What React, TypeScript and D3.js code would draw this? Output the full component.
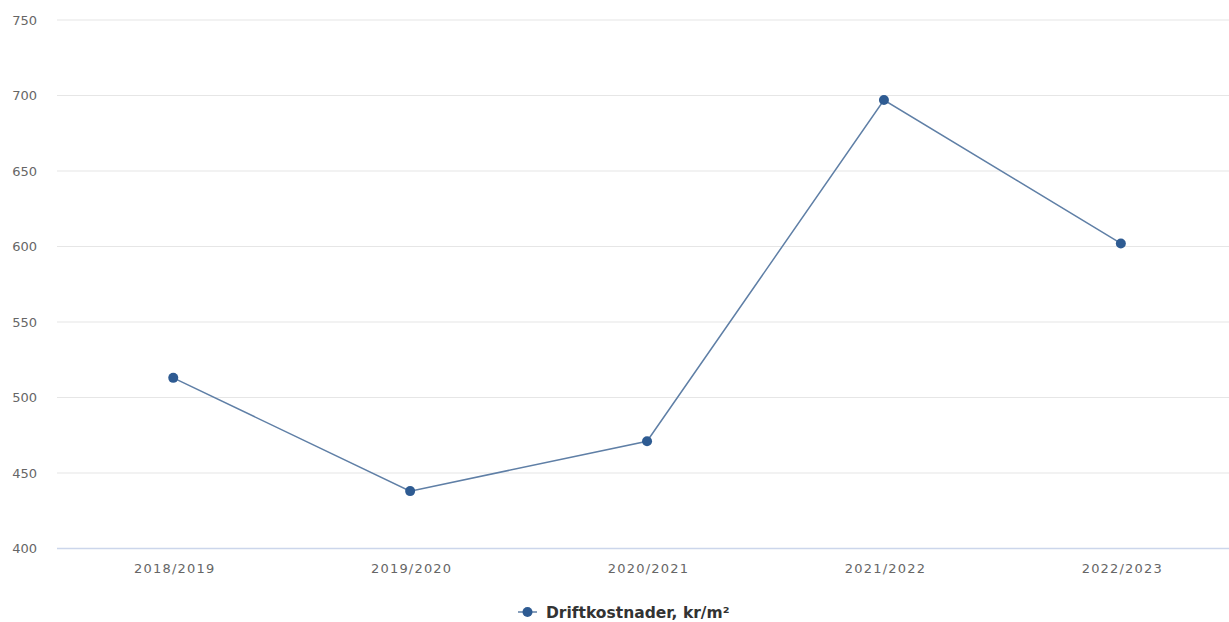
import React from "react";
import * as d3 from "d3";

const categories = ["2018/2019", "2019/2020", "2020/2021", "2021/2022", "2022/2023"];
const values = [513, 438, 471, 697, 602];
const yTicks = [400, 450, 500, 550, 600, 650, 700, 750];
const seriesName = "Driftkostnader, kr/m²";

const W = 1229;
const H = 622;
const gridLeft = 57;
const plotLeft = 54.8;
const plotRight = 1239.3;
const plotTop = 20;
const plotBottom = 548.5;

export default function App() {
  const x = d3.scaleBand<string>().domain(categories).range([plotLeft, plotRight]);
  const y = d3.scaleLinear().domain([400, 750]).range([plotBottom, plotTop]);
  const cx = (c: string) => (x(c) as number) + x.bandwidth() / 2;
  const line = d3
    .line<number>()
    .x((_, i) => cx(categories[i]))
    .y((d) => y(d));
  const font = "'DejaVu Sans', Verdana, sans-serif";
  return (
    <div style={{ position: "absolute", left: 0, top: 0 }}>
      <svg width={W} height={H} style={{ display: "block", background: "#fff" }} fontFamily={font}>
        {yTicks.map((t) => (
          <g key={t}>
            {t !== 400 && (
              <line x1={gridLeft} x2={W} y1={y(t)} y2={y(t)} stroke="#e6e6e6" strokeWidth={1.2} />
            )}
            <text x={37} y={y(t)} dy="0.35em" textAnchor="end" fill="#666" fontSize={13}>
              {t}
            </text>
          </g>
        ))}
        <line x1={gridLeft} x2={W} y1={y(400)} y2={y(400)} stroke="#ccd6eb" strokeWidth={1.6} />
        {categories.map((c) => (
          <text key={c} x={cx(c) + 1.5} y={568.5} dy="0.35em" textAnchor="middle" fill="#666" fontSize={13} letterSpacing={1.2}>
            {c}
          </text>
        ))}
        <path d={line(values) as string} fill="none" stroke="#5f7fa6" strokeWidth={1.5} />
        {values.map((v, i) => (
          <circle key={i} cx={cx(categories[i])} cy={y(v)} r={5} fill="#2e5b92" />
        ))}
        <g>
          <line x1={518} x2={537} y1={612} y2={612} stroke="#5f7fa6" strokeWidth={1.5} />
          <circle cx={527.5} cy={612} r={5} fill="#2e5b92" />
          <text x={546} y={613} dy="0.35em" fill="#333" fontSize={15.5} fontWeight="bold">
            {seriesName}
          </text>
        </g>
      </svg>
    </div>
  );
}
